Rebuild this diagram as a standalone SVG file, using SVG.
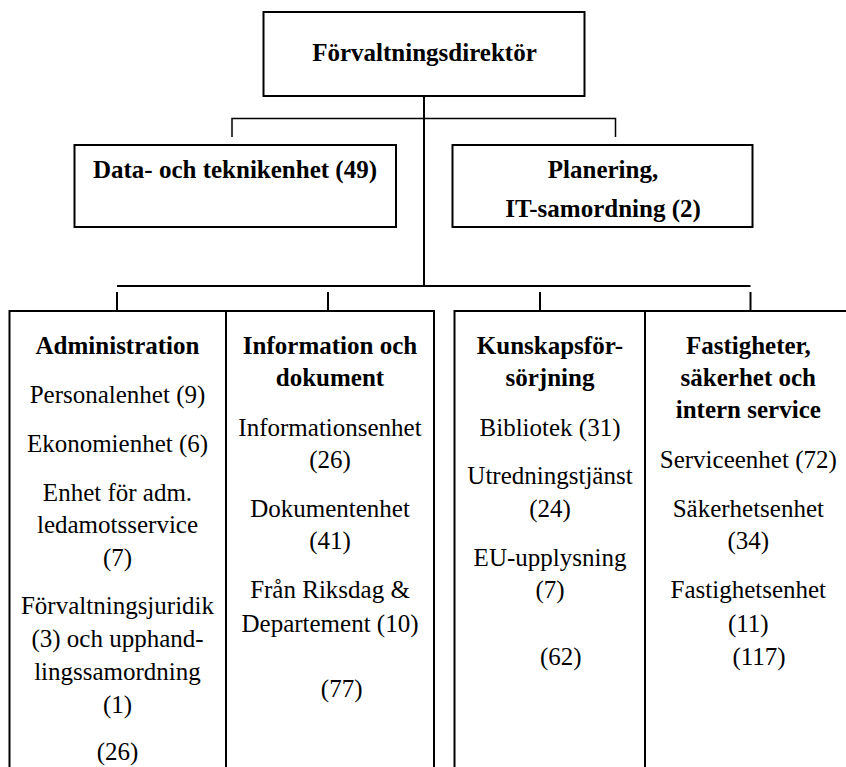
<svg xmlns="http://www.w3.org/2000/svg" width="846" height="767" viewBox="0 0 846 767">
<style>
  .box { fill: #ffffff; stroke: #000000; stroke-width: 2; }
  .ln { fill: none; stroke: #000000; stroke-width: 2; }
  .thin { fill: none; stroke: #000000; stroke-width: 1.5; }
  .t { font-family: "Liberation Serif", "Times New Roman", serif; font-size: 25px; fill: #000000; text-anchor: middle; }
  .b { font-weight: bold; }
</style>
<rect x="0" y="0" width="846" height="767" fill="#ffffff"/>
<g id="connectors">
  <path class="ln" d="M424 96 V286"/>
  <path class="thin" d="M232 137 V118.5 H615.5 V137"/>
  <path class="ln" d="M117 286 H750.5"/>
  <path class="ln" d="M117 292 V311"/>
  <path class="ln" d="M328 292 V311"/>
  <path class="ln" d="M540 292 V311"/>
  <path class="ln" d="M750.5 292 V311"/>
</g>
<g id="forvaltningsdirektor" font-family="Liberation Serif, serif">
  <rect class="box" x="263.5" y="12" width="321" height="84"/>
  <text class="t b" x="424.5" y="61">Förvaltningsdirektör</text>
</g>
<g id="data-teknik" font-family="Liberation Serif, serif">
  <rect class="box" x="74.5" y="145" width="321.5" height="82"/>
  <text class="t b" x="235" y="178.3">Data- och teknikenhet (49)</text>
</g>
<g id="planering" font-family="Liberation Serif, serif">
  <rect class="box" x="452.5" y="145" width="300" height="82"/>
  <text class="t b" x="603" y="178">Planering,</text>
  <text class="t b" x="603" y="217">IT-samordning (2)</text>
</g>
<g id="administration" font-family="Liberation Serif, serif">
  <rect class="box" x="9.5" y="311" width="216.5" height="470"/>
  <text class="t b" x="117.5" y="354">Administration</text>
  <text class="t" x="117.5" y="402.7">Personalenhet (9)</text>
  <text class="t" x="117.5" y="451.7">Ekonomienhet (6)</text>
  <text class="t" x="117.5" y="500.7">Enhet för adm.</text>
  <text class="t" x="117.5" y="533.3">ledamotsservice</text>
  <text class="t" x="117.5" y="566">(7)</text>
  <text class="t" x="117.5" y="614.3">Förvaltningsjuridik</text>
  <text class="t" x="117.5" y="647.3">(3) och upphand-</text>
  <text class="t" x="117.5" y="680">lingssamordning</text>
  <text class="t" x="117.5" y="712.7">(1)</text>
  <text class="t" x="117.5" y="760">(26)</text>
</g>
<g id="information-dokument" font-family="Liberation Serif, serif">
  <rect class="box" x="226" y="311" width="208" height="470"/>
  <text class="t b" x="330" y="354">Information och</text>
  <text class="t b" x="330" y="386">dokument</text>
  <text class="t" x="330" y="436">Informationsenhet</text>
  <text class="t" x="330" y="468.3">(26)</text>
  <text class="t" x="330" y="517.3">Dokumentenhet</text>
  <text class="t" x="330" y="549.3">(41)</text>
  <text class="t" x="330" y="598.3">Från Riksdag &amp;</text>
  <text class="t" x="330" y="631.7">Departement (10)</text>
  <text class="t" x="341.7" y="696.7">(77)</text>
</g>
<g id="kunskapsforsorjning" font-family="Liberation Serif, serif">
  <rect class="box" x="454.5" y="311" width="190.5" height="470"/>
  <text class="t b" x="550" y="354">Kunskapsför-</text>
  <text class="t b" x="550" y="386">sörjning</text>
  <text class="t" x="550" y="436">Bibliotek (31)</text>
  <text class="t" x="550" y="484">Utredningstjänst</text>
  <text class="t" x="550" y="516.7">(24)</text>
  <text class="t" x="550" y="566">EU-upplysning</text>
  <text class="t" x="550" y="598.3">(7)</text>
  <text class="t" x="560.8" y="665">(62)</text>
</g>
<g id="fastigheter" font-family="Liberation Serif, serif">
  <rect class="box" x="645" y="311" width="215" height="470"/>
  <text class="t b" x="748.3" y="354">Fastigheter,</text>
  <text class="t b" x="748.3" y="386">säkerhet och</text>
  <text class="t b" x="748.3" y="418.3">intern service</text>
  <text class="t" x="748.3" y="468.3">Serviceenhet (72)</text>
  <text class="t" x="748.3" y="517.3">Säkerhetsenhet</text>
  <text class="t" x="748.3" y="549.3">(34)</text>
  <text class="t" x="748.3" y="598.3">Fastighetsenhet</text>
  <text class="t" x="748.3" y="631.7">(11)</text>
  <text class="t" x="759" y="665">(117)</text>
</g>
</svg>
